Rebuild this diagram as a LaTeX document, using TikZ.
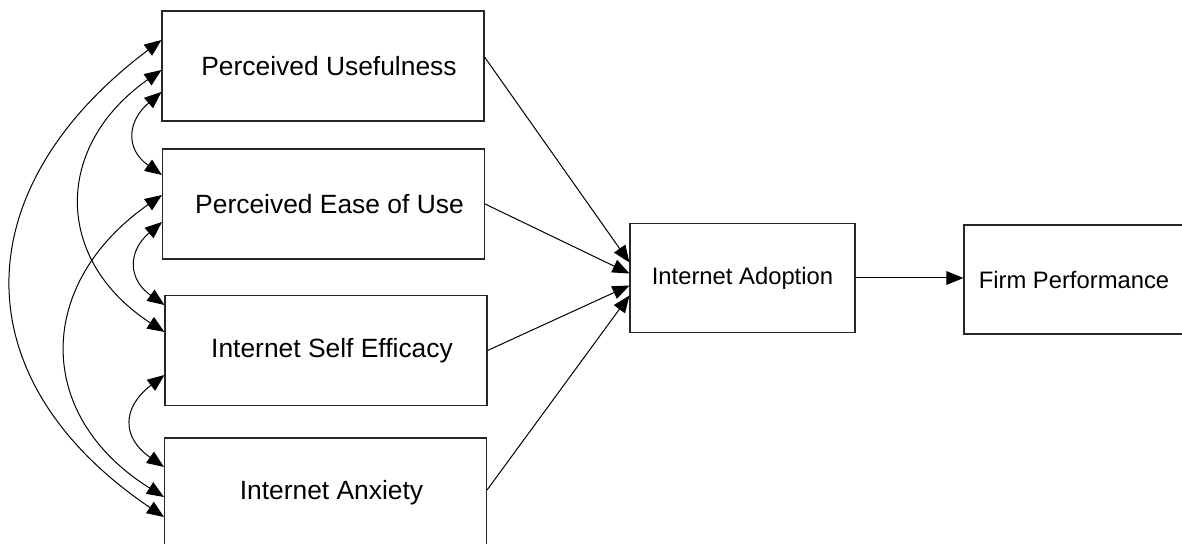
\documentclass[tikz,border=0pt]{standalone}
\usepackage{fontspec}
\setmainfont{Liberation Sans}
\usetikzlibrary{arrows.meta}

\begin{document}
\begin{tikzpicture}[x=0.5pt, y=0.5pt, line width=0.5pt]
	\tikzset{>={Triangle[length=8.5pt, width=6.8pt]}}
	\tikzstyle{construct}=[rectangle, draw=black!85, line width=0.55pt, minimum width=161pt, minimum height=55pt, font=\fontsize{13.2}{16}\selectfont, execute at begin node={\hspace*{6pt}}]
	\tikzstyle{outcome}=[rectangle, draw=black!85, line width=0.55pt, minimum height=54.5pt, font=\fontsize{11.9}{14}\selectfont]
	\useasboundingbox (0,0) rectangle (1182,-544);

	\node[construct] (usefulness) at (323,-66) {Perceived Usefulness};
	\node[construct] (ease) at (323.5,-204) {Perceived Ease of Use};
	\node[construct] (efficacy) at (326,-350.5) {Internet Self Efficacy};
	\node[construct] (anxiety) at (325.5,-493) {Internet Anxiety};

	\node[outcome, minimum width=112.5pt] (adoption) at (742.5,-278) {Internet Adoption};
	\node[outcome, minimum width=110pt] (firm) at (1074,-279.5) {Firm Performance};

	\path ([yshift=4.5pt]usefulness.east) edge[->] ([yshift=7.75pt]adoption.west);
	\path (ease.east) edge[->] ([yshift=2.25pt]adoption.west);
	\path (efficacy.east) edge[->] ([yshift=-3.75pt]adoption.west);
	\path ([yshift=1.5pt]anxiety.east) edge[->] ([yshift=-8.75pt]adoption.west);
	\path (adoption.east) edge[->] (adoption.east -| firm.west);

	% correlations
	\draw[<->] ([yshift=13pt]usefulness.west) .. controls +(-197,-148) and +(-204,138) .. ([yshift=-12pt]anxiety.west);
	\draw[<->] ([yshift=-2pt]usefulness.west) .. controls +(-108,-76) and +(-111,72) .. ([yshift=9.25pt]efficacy.west);
	\draw[<->] ([yshift=-13pt]usefulness.west) .. controls +(-34,-29) and +(-37,26) .. ([yshift=14.5pt]ease.west);
	\draw[<->] ([yshift=4.5pt]ease.west) .. controls +(-126,-88) and +(-131,82) .. ([yshift=-2pt]anxiety.west);
	\draw[<->] ([yshift=-9pt]ease.west) .. controls +(-34,-29) and +(-37,26) .. ([yshift=22.75pt]efficacy.west);
	\draw[<->] ([yshift=-12.25pt]efficacy.west) .. controls +(-42,-32) and +(-43,30) .. ([yshift=13pt]anxiety.west);
\end{tikzpicture}
\end{document}
